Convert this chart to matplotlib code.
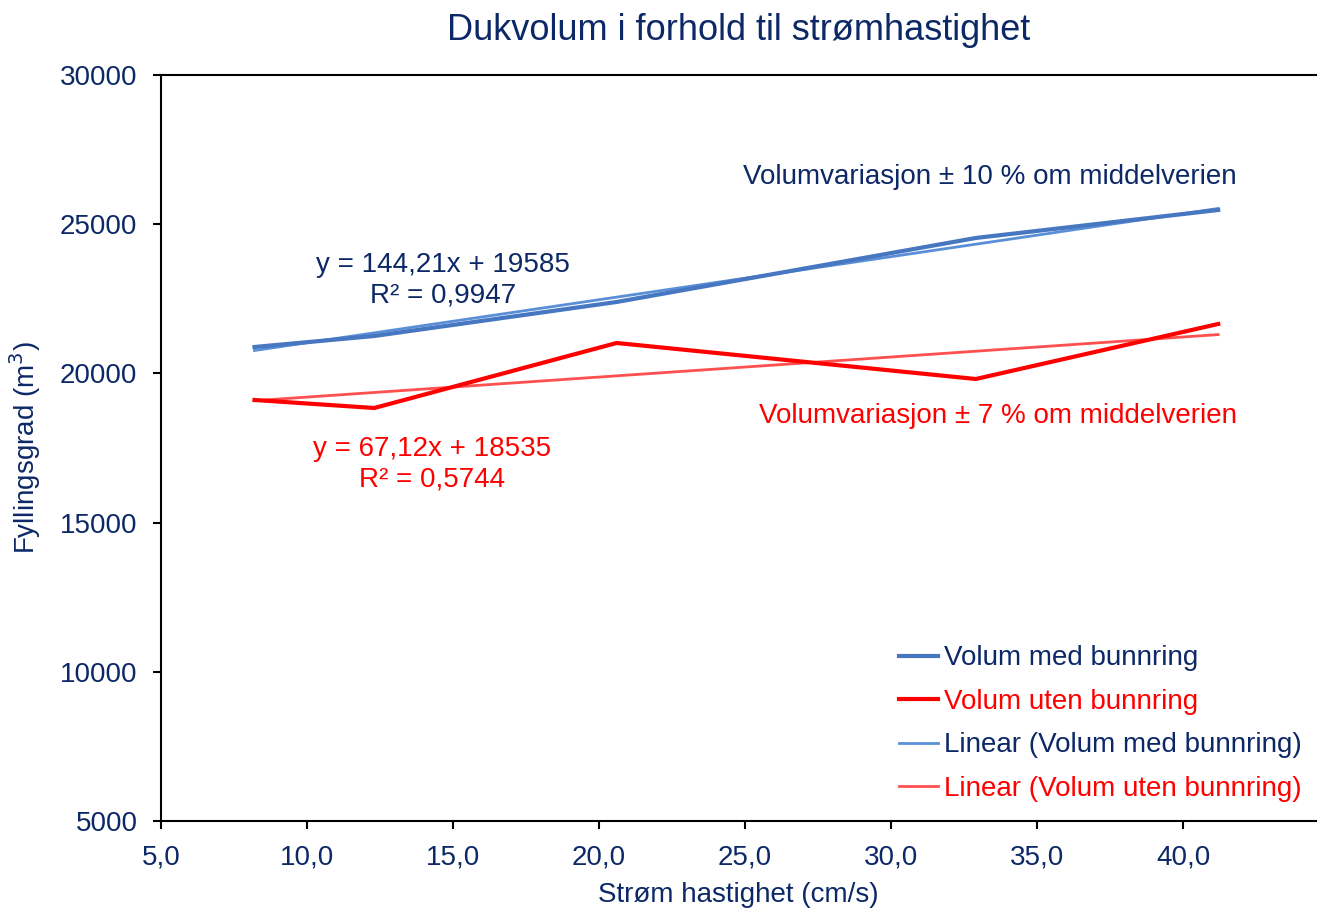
import matplotlib.pyplot as plt
import numpy as np

# Strømhastighet (cm/s) og volum (m3)
hastighet = [8.2, 12.3, 20.6, 32.9, 41.2]
volum_med = [20885, 21253, 22393, 24538, 25476]
volum_uten = [19109, 18840, 21019, 19812, 21656]

# trendlinjer (stigning, konstantledd, R2) som vist i grafen
trend_med = (144.21, 19585, 0.9947)
trend_uten = (67.12, 18535, 0.5744)

x_ticks = [5, 10, 15, 20, 25, 30, 35, 40]
y_ticks = [5000, 10000, 15000, 20000, 25000, 30000]

navy = '#0c2866'
blaa = '#4677c0'
blaa_lys = '#5a8fd8'
rod = '#ff0000'
rod_lys = '#ff5050'

plt.rcParams['font.family'] = ['Liberation Sans', 'DejaVu Sans']

fig = plt.figure(figsize=(13.18, 9.10), dpi=100)
ax = fig.add_axes([0.1222, 0.0978, 0.8763, 0.8198])

x_arr = np.array(hastighet)
ax.plot(hastighet, volum_med, color=blaa, lw=3, label='Volum med bunnring', zorder=3)
ax.plot(hastighet, volum_uten, color=rod, lw=3, label='Volum uten bunnring', zorder=3)
ax.plot(x_arr, trend_med[0] * x_arr + trend_med[1], color=blaa_lys, lw=2,
        label='Linear (Volum med bunnring)', zorder=2)
ax.plot(x_arr, trend_uten[0] * x_arr + trend_uten[1], color=rod_lys, lw=2,
        label='Linear (Volum uten bunnring)', zorder=2)

# likninger og kommentarer
fs = 20
ax.text(14.66, 23130, f'y = {trend_med[0]:.2f}x + {trend_med[1]}\nR² = {trend_med[2]:.4f}'.replace('.', ','),
        color=navy, fontsize=fs, ha='center', va='center', linespacing=1.22)
ax.text(14.28, 16964, f'y = {trend_uten[0]:.2f}x + {trend_uten[1]}\nR² = {trend_uten[2]:.4f}'.replace('.', ','),
        color=rod, fontsize=fs, ha='center', va='center', linespacing=1.22)
ax.text(33.39, 26582, 'Volumvariasjon ± 10 % om middelverien', color=navy, fontsize=fs,
        ha='center', va='center')
ax.text(33.66, 18573, 'Volumvariasjon ± 7 % om middelverien', color=rod, fontsize=fs,
        ha='center', va='center')

ax.set_xlim(5, 44.55)
ax.set_ylim(5000, 30000)
ax.set_xticks(x_ticks)
ax.set_xticklabels([f'{v:.1f}'.replace('.', ',') for v in x_ticks])
ax.set_yticks(y_ticks)
ax.tick_params(axis='both', colors='black', labelcolor=navy, labelsize=fs,
               direction='out', length=6, width=1.5)
ax.tick_params(axis='x', pad=11)
ax.tick_params(axis='y', pad=11)
for side in ['left', 'top', 'bottom']:
    ax.spines[side].set_linewidth(1.5)
ax.spines['right'].set_visible(False)

ax.set_title('Dukvolum i forhold til strømhastighet', color=navy, fontsize=26, pad=25)
ax.set_xlabel('Strøm hastighet (cm/s)', color=navy, fontsize=fs, labelpad=8)
ax.set_ylabel('Fyllingsgrad (m$^3$)', color=navy, fontsize=fs, labelpad=12)

leg = ax.legend(loc='lower right', frameon=False, fontsize=fs, handlelength=1.4,
                handletextpad=0.2, labelspacing=0.63, bbox_to_anchor=(1.009, -0.008))
for txt, c in zip(leg.get_texts(), [navy, rod, navy, rod]):
    txt.set_color(c)

fig.savefig('out.png', dpi=100)
